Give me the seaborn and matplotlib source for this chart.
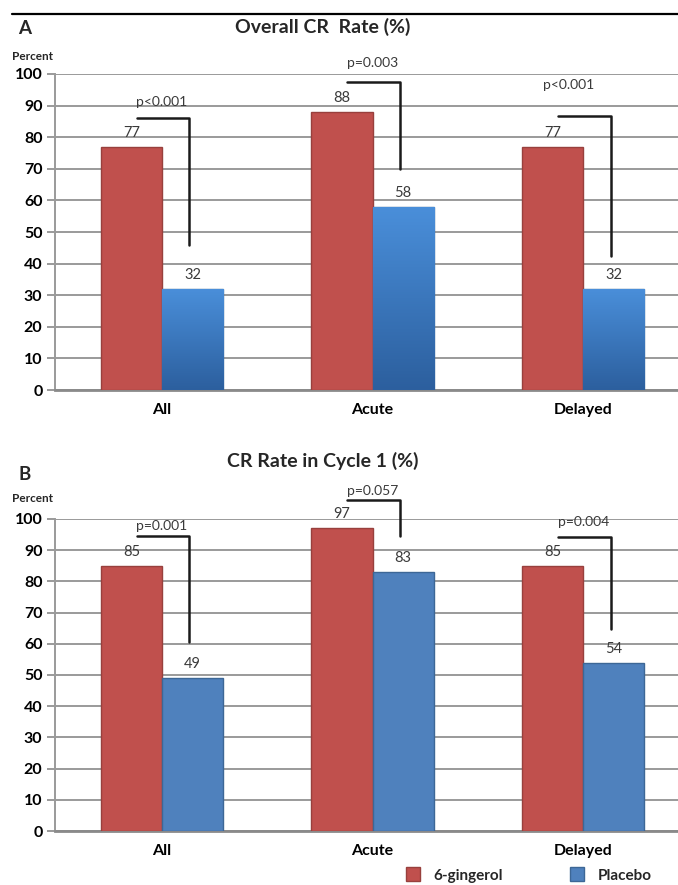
import numpy as np
import pandas as pd
import matplotlib
matplotlib.use('Agg')
import matplotlib.pyplot as plt
import seaborn as sns
from matplotlib.patches import Patch
from matplotlib.lines import Line2D
from matplotlib.colors import LinearSegmentedColormap

# Dados
categorias = ['All', 'Acute', 'Delayed']
grupos = ['6-gingerol', 'Placebo']
geral_gingerol = [77, 88, 77]
geral_placebo = [32, 58, 32]
ciclo1_gingerol = [85, 97, 85]
ciclo1_placebo = [49, 83, 54]
p_geral = ['p<0.001', 'p=0.003', 'p<0.001']
p_ciclo1 = ['p=0.001', 'p=0.057', 'p=0.004']
y_ticks = list(range(0, 101, 10))

sns.set_theme(style='white')
plt.rcParams['font.family'] = ['Lato', 'DejaVu Sans']

vermelho = '#C0504D'
azul = '#4F81BD'
borda_vermelho = '#98403d'
borda_azul = '#3d6796'
cinza = '#9a9a9a'
texto = '#3a3a3a'

fig = plt.figure(figsize=(6.78, 8.85), dpi=100)
ax_a = fig.add_axes([0.081, 0.5593, 0.919, 0.3571])
ax_b = fig.add_axes([0.081, 0.0610, 0.919, 0.3526])


def painel(ax, gingerol, placebo, gradiente=False):
    df = pd.DataFrame({
        'categoria': categorias * 2,
        'grupo': [grupos[0]] * 3 + [grupos[1]] * 3,
        'valor': gingerol + placebo,
    })
    sns.barplot(data=df, x='categoria', y='valor', hue='grupo',
                palette=[vermelho, azul], width=0.58, saturation=1,
                legend=False, ax=ax, zorder=3)
    for barra in ax.containers[0]:
        barra.set_edgecolor(borda_vermelho)
        barra.set_linewidth(1.0)
    for barra in ax.containers[1]:
        barra.set_edgecolor(borda_azul)
        barra.set_linewidth(1.0)

    if gradiente:
        # barras do placebo com degrade (mais escuro embaixo)
        cmap = LinearSegmentedColormap.from_list('grad', ['#2c5f9e', '#4a8fda'])
        grad = np.linspace(0, 1, 256).reshape(-1, 1)
        for barra in ax.containers[1]:
            x0, y0 = barra.get_x(), barra.get_y()
            w, h = barra.get_width(), barra.get_height()
            im = ax.imshow(grad, extent=[x0, x0 + w, y0, y0 + h], cmap=cmap,
                           origin='lower', aspect='auto', zorder=3.5)
            im.set_clip_path(barra)

    for cont in ax.containers:
        ax.bar_label(cont, padding=5, fontsize=10.5, color=texto, zorder=5)

    ax.set_xlim(-0.508, 2.45)
    ax.set_ylim(0, 100)
    ax.set_yticks(y_ticks)
    ax.set_xlabel('')
    ax.set_ylabel('')
    ax.yaxis.grid(True, color=cinza, linewidth=1.4)
    ax.set_axisbelow(True)
    for lado in ['top', 'right']:
        ax.spines[lado].set_visible(False)
    ax.spines['left'].set_color(cinza)
    ax.spines['left'].set_linewidth(1.4)
    ax.spines['bottom'].set_color('#8a8a8a')
    ax.spines['bottom'].set_linewidth(2)
    ax.tick_params(axis='y', left=True, length=6, width=1.4, color=cinza,
                   pad=3, labelsize=11.5, labelcolor='black')
    ax.tick_params(axis='x', bottom=False, length=0, pad=9, labelsize=11.5,
                   labelcolor='black')
    for lbl in ax.get_xticklabels() + ax.get_yticklabels():
        lbl.set_fontweight('bold')


def colchete(ax, xc, topo, base, rotulo, y_txt, x_txt=0.0):
    ax.plot([xc - 0.12, xc + 0.13, xc + 0.13], [topo, topo, base],
            color='#1a1a1a', lw=1.8, clip_on=False, zorder=6)
    ax.text(xc + x_txt, y_txt, rotulo, ha='center', va='center',
            fontsize=10, color=texto, clip_on=False, zorder=6)


painel(ax_a, geral_gingerol, geral_placebo, gradiente=True)
painel(ax_b, ciclo1_gingerol, ciclo1_placebo)

# colchetes com valor p - painel A
colchete(ax_a, 0, 86, 46, p_geral[0], 91)
colchete(ax_a, 1, 97.4, 70, p_geral[1], 103.5)
colchete(ax_a, 2, 86.7, 42.5, p_geral[2], 96.5, x_txt=-0.07)

# colchetes com valor p - painel B
colchete(ax_b, 0, 94.6, 60.7, p_ciclo1[0], 97.6)
colchete(ax_b, 1, 106, 94.4, p_ciclo1[1], 109)
colchete(ax_b, 2, 94.2, 64.8, p_ciclo1[2], 98.9)

# linha no topo e titulos
fig.add_artist(Line2D([12 / 678, 1], [1 - 14 / 885] * 2, color='black', lw=1.6))
fig.text(18 / 678, 1 - 28 / 885, 'A', fontsize=13.5, fontweight='bold', va='center')
fig.text(323 / 678, 1 - 27 / 885, 'Overall CR  Rate (%)', fontsize=14,
         fontweight='bold', ha='center', va='center')
fig.text(12 / 678, 1 - 57 / 885, 'Percent', fontsize=8.5, fontweight='bold', va='center')

fig.text(18 / 678, 1 - 474 / 885, 'B', fontsize=13.5, fontweight='bold', va='center')
fig.text(323 / 678, 1 - 461 / 885, 'CR Rate in Cycle 1 (%)', fontsize=14,
         fontweight='bold', ha='center', va='center')
fig.text(12 / 678, 1 - 498 / 885, 'Percent', fontsize=8.5, fontweight='bold', va='center')

# legenda
alcas = [Patch(facecolor=vermelho, edgecolor=borda_vermelho),
         Patch(facecolor=azul, edgecolor=borda_azul)]
fig.legend(handles=alcas, labels=grupos, loc='center left',
           bbox_to_anchor=(392 / 678, 1 - 875 / 885), ncol=2, frameon=False,
           handlelength=0.9, handleheight=1.0, columnspacing=4.4,
           handletextpad=0.9, prop=dict(weight='bold', size=11))

plt.savefig('out.png', dpi=100)
